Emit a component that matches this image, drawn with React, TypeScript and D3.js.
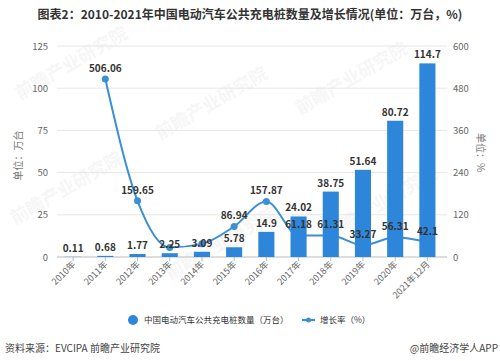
import React from 'react';
import * as d3 from 'd3';

const years = ['2010年', '2011年', '2012年', '2013年', '2014年', '2015年', '2016年', '2017年', '2018年', '2019年', '2020年', '2021年12月'];
const piles = [0.11, 0.68, 1.77, 2.25, 3.09, 5.78, 14.9, 24.02, 38.75, 51.64, 80.72, 114.7];
// growth rate, no value for the first year
const growth: (number | null)[] = [null, 506.06, 159.65, 27.12, 37.33, 86.94, 157.87, 61.18, 61.31, 33.27, 56.31, 42.1];
// which growth values carry a printed label
const growthLabelShown = [false, true, true, false, false, true, true, true, true, true, true, true];
const leftTicks = [0, 25, 50, 75, 100, 125];
const rightTicks = [0, 120, 240, 360, 480, 600];

const W = 500;
const H = 361;
const margin = { left: 57, right: 57, top: 46, bottom: 104 };

const BAR = '#2e86db';
const LINE = '#3b8fd5';
const FONT = '"Noto Sans CJK SC", "Noto Sans", sans-serif';

const watermarks = [
  { x: 20, y: 100 },
  { x: 15, y: 225 },
  { x: 160, y: 140 },
  { x: 300, y: 115 },
  { x: 170, y: 280 },
  { x: 330, y: 240 },
];

const App: React.FC = () => {
  const x = d3.scaleBand<string>()
    .domain(years)
    .range([margin.left, W - margin.right + 0.5])
    .paddingInner(0.5)
    .paddingOuter(0.25);
  const xc = (d: string) => (x(d) as number) + x.bandwidth() / 2;

  const yL = d3.scaleLinear().domain([0, 125]).range([H - margin.bottom, margin.top]);
  const yR = d3.scaleLinear().domain([0, 600]).range([H - margin.bottom, margin.top]);

  const pts = years
    .map((d, i) => ({ d, i, v: growth[i] }))
    .filter(p => p.v !== null) as { d: string; i: number; v: number }[];

  const line = d3.line<{ d: string; v: number }>()
    .x(p => xc(p.d))
    .y(p => yR(p.v))
    .curve(d3.curveMonotoneX);

  const y0 = yL(0);

  return (
    <div style={{ position: 'absolute', left: 0, top: 0 }}>
      <svg width={W} height={H} style={{ display: 'block', background: '#fff' }} fontFamily={FONT}>
        <text x={250} y={19} textAnchor="middle" fontSize={12} fontWeight="bold" fill="#333">
          图表2：2010-2021年中国电动汽车公共充电桩数量及增长情况(单位：万台，%)
        </text>

        {/* faint watermark */}
        {watermarks.map((w, i) => (
          <text key={i} x={w.x} y={w.y} transform={`rotate(-30,${w.x},${w.y})`}
            fontSize={18} fontWeight="bold" fill="#000" opacity={0.03}>
            前瞻产业研究院
          </text>
        ))}

        {/* grid */}
        {leftTicks.map(t => (
          <line key={t} x1={margin.left} x2={W - margin.right + 4} y1={yL(t)} y2={yL(t)}
            stroke={t === 0 ? '#bbb' : '#e6e6e6'} strokeWidth={1} />
        ))}
        {years.map(d => (
          <line key={d} x1={xc(d)} x2={xc(d)} y1={y0} y2={y0 + 4} stroke="#bbb" />
        ))}

        {leftTicks.map(t => (
          <text key={t} x={margin.left - 9} y={yL(t) + 3.5} textAnchor="end" fontSize={9.5} fill="#666">{t}</text>
        ))}
        {rightTicks.map(t => (
          <text key={t} x={W - margin.right + 10} y={yR(t) + 3.5} textAnchor="start" fontSize={9.5} fill="#666">{t}</text>
        ))}

        <text transform={`translate(22,${(yL(0) + yL(125)) / 2 + 4}) rotate(-90)`} textAnchor="middle" fontSize={10} fill="#777">
          单位：万台
        </text>
        <text transform={`translate(477,${(yL(0) + yL(125)) / 2 + 1}) rotate(90)`} textAnchor="middle" fontSize={10} fill="#777">
          单位：%
        </text>

        {/* growth line sits behind the bars */}
        <path d={line(pts) || ''} fill="none" stroke={LINE} strokeWidth={2} />
        {pts.map(p => (
          <circle key={p.d} cx={xc(p.d)} cy={yR(p.v)} r={3.5} fill={LINE} />
        ))}

        {years.map((d, i) => (
          <rect key={d} x={x(d)} y={yL(piles[i])} width={x.bandwidth()} height={y0 - yL(piles[i])} fill={BAR} />
        ))}

        {years.map((d, i) => (
          <text key={d} x={xc(d)} y={yL(piles[i]) - 5} textAnchor="middle" fontSize={10} fontWeight="bold" fill="#333">
            {piles[i]}
          </text>
        ))}
        {pts.filter(p => growthLabelShown[p.i]).map(p => (
          <text key={p.d} x={xc(p.d)} y={yR(p.v) - 7} textAnchor="middle" fontSize={10} fontWeight="bold" fill="#333">
            {p.v}
          </text>
        ))}

        {years.map(d => (
          <text key={d} transform={`translate(${xc(d) + 3},${y0 + 8}) rotate(-45)`} textAnchor="end" fontSize={9} fill="#666">
            {d}
          </text>
        ))}

        {/* legend */}
        <circle cx={133} cy={320} r={5} fill={BAR} />
        <text x={144} y={323} fontSize={8.5} fill="#333">中国电动汽车公共充电桩数量（万台）</text>
        <line x1={302} x2={315} y1={320} y2={320} stroke={LINE} strokeWidth={2} />
        <circle cx={308.5} cy={320} r={2.5} fill={LINE} />
        <text x={320} y={323} fontSize={8.5} fill="#333">增长率（%）</text>

        <text x={5} y={352} fontSize={10} fill="#444">资料来源：EVCIPA 前瞻产业研究院</text>
        <text x={498} y={352} textAnchor="end" fontSize={10} fill="#444">@前瞻经济学人APP</text>
      </svg>
    </div>
  );
};

export default App;
